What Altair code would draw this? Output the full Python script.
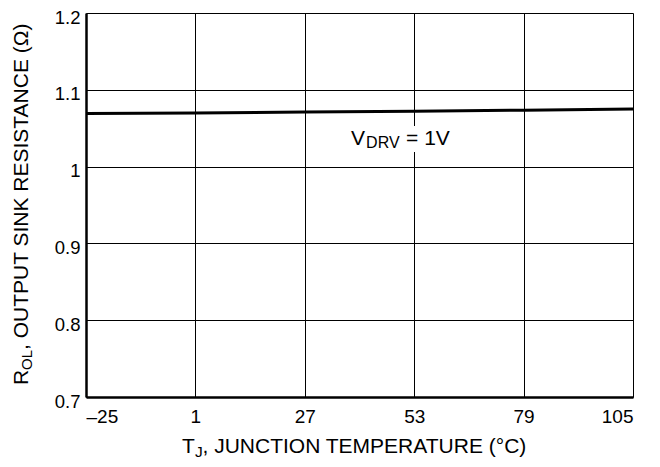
import altair as alt
import pandas as pd

# data
temps = [-25, 1, 27, 53, 79, 105]
r_ol = [1.069, 1.0697, 1.0712, 1.0722, 1.0735, 1.0749]
x_ticks = [-25, 1, 27, 53, 79, 105]
y_ticks = [0.7, 0.8, 0.9, 1.0, 1.1, 1.2]
label_main = "V"
label_sub = "DRV"
label_rest = "= 1V"
label_pos = [38, 1.028]

FONT = "Liberation Sans"
W, H = 547, 384

df = pd.DataFrame({"t": temps, "r": r_ol})

xs = alt.Scale(domain=[-25, 105], nice=False, zero=False)
ys = alt.Scale(domain=[0.7, 1.2], nice=False, zero=False)

x_axis = alt.Axis(
    values=x_ticks, title=None, grid=True, gridColor="black", gridWidth=1, gridOpacity=1,
    domainColor="black", domainWidth=2.5, tickSize=0, labelPadding=10,
    labelFont=FONT, labelFontSize=19, labelColor="black",
    labelExpr="datum.value < 0 ? '\u2013' + (-datum.value) : '' + datum.value",
)
y_axis = alt.Axis(
    values=y_ticks, title=None, grid=True, gridColor="black", gridWidth=1, gridOpacity=1,
    domainColor="black", domainWidth=2.5, tickSize=0, labelPadding=6, labelOffset=4,
    labelFont=FONT, labelFontSize=18.5, labelColor="black", format="~g",
)

line = alt.Chart(df).mark_line(color="black", strokeWidth=3).encode(
    x=alt.X("t:Q", scale=xs, axis=x_axis),
    y=alt.Y("r:Q", scale=ys, axis=y_axis),
)

lab_df = pd.DataFrame({"t": [label_pos[0]], "r": [label_pos[1]]})

# white box behind the label (interrupts the gridline, as in the reference)
label_bg = alt.Chart(lab_df).mark_rect(color="white").encode(
    x=alt.value(259), x2=alt.value(373), y=alt.value(113), y2=alt.value(139)
)

def lab(text, dx, dy, size):
    return alt.Chart(lab_df).mark_text(
        text=text, align="left", baseline="alphabetic", dx=dx, dy=dy,
        font=FONT, fontSize=size, color="black",
    ).encode(x=alt.X("t:Q", scale=xs), y=alt.Y("r:Q", scale=ys))

annot = lab(label_main, 0, 0, 21) + lab(label_sub, 15, 3, 16) + lab(label_rest, 55, 0, 21)

def txt(text, x, y, size, angle=0):
    return alt.Chart(lab_df).mark_text(
        text=text, align="left", baseline="alphabetic", angle=angle,
        font=FONT, fontSize=size, color="black",
    ).encode(x=alt.value(x), y=alt.value(y))

x_title = (
    txt("T", 96, 440, 21)
    + txt("J", 109, 443.5, 15.5)
    + txt(", JUNCTION TEMPERATURE (°C)", 116.5, 440, 21)
)
y_title = (
    txt("R", -58, 372, 21, 270)
    + txt("OL", -54.5, 357, 15, 270)
    + txt(", OUTPUT SINK RESISTANCE (Ω)", -58, 337, 21, 270)
)

chart = (label_bg + line + annot + x_title + y_title).properties(
    width=W, height=H,
    autosize=alt.AutoSizeParams(type="none"),
    padding={"left": 78, "top": 5, "right": 19, "bottom": 62},
).configure_view(stroke="black", strokeWidth=1.5).configure(background="white")

chart.save("out.html", embed_options={"renderer": "svg", "actions": False})
